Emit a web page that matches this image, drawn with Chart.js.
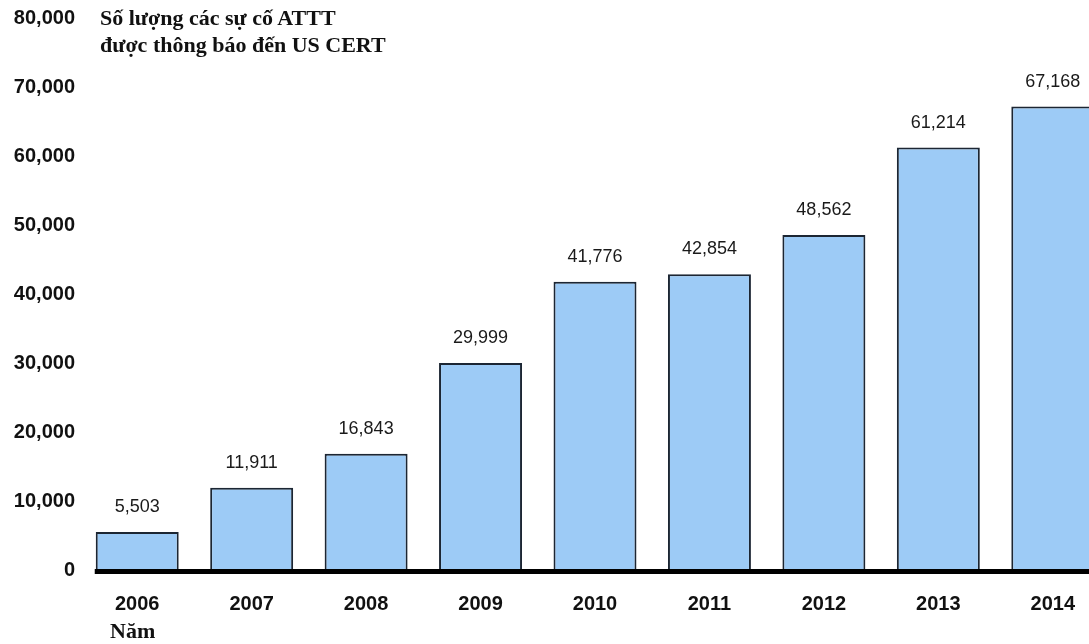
<!DOCTYPE html>
<html>
<head>
<meta charset="utf-8">
<script src="https://cdn.jsdelivr.net/npm/chart.js@4"></script>
<style>
  html, body { margin: 0; padding: 0; background: #fff; overflow: hidden; }
  #wrap { position: relative; width: 1112px; height: 644px; }
  .title {
    position: absolute; left: 100px; top: 4px;
    font: bold 22px "Liberation Serif", "Times New Roman", serif;
    line-height: 27px; color: #111;
  }
  .xname {
    position: absolute; left: 110px; top: 618px;
    font: bold 22px "Liberation Serif", "Times New Roman", serif;
    color: #111;
  }
</style>
</head>
<body>
<div id="wrap">
  <canvas id="grafico" width="1112" height="644"></canvas>
  <div class="title">Số lượng các sự cố ATTT<br>được thông báo đến US CERT</div>
  <div class="xname">Năm</div>
</div>
<script>
// ── Dados ─────────────────────────────────
const anos    = ['2006','2007','2008','2009','2010','2011','2012','2013','2014'];
const sucos   = [5503, 11911, 16843, 29999, 41776, 42854, 48562, 61214, 67168];
const rotulos = ['5,503','11,911','16,843','29,999','41,776','42,854','48,562','61,214','67,168'];
const yMax    = 80000;
const yPasso  = 10000;

// ── Rótulos acima das barras + linha de base ──
const extras = {
  id: 'extras',
  afterDatasetsDraw(chart) {
    const ctx  = chart.ctx;
    const meta = chart.getDatasetMeta(0);
    const y0   = chart.scales.y.getPixelForValue(0);

    ctx.save();
    ctx.fillStyle = '#1a1a1a';
    ctx.font = '18px "Liberation Sans", Arial, sans-serif';
    ctx.textAlign = 'center';
    ctx.textBaseline = 'middle';
    meta.data.forEach((bar, i) => {
      ctx.fillText(rotulos[i], bar.x, bar.y - 25);
    });

    const first = meta.data[0];
    ctx.strokeStyle = '#000';
    ctx.lineWidth = 5;
    ctx.beginPath();
    ctx.moveTo(first.x - first.width / 2 - 1, y0 + 1.5);
    ctx.lineTo(chart.width, y0 + 1.5);
    ctx.stroke();
    ctx.restore();
  }
};

new Chart(document.getElementById('grafico').getContext('2d'), {
  type: 'bar',
  data: {
    labels: anos,
    datasets: [{
      data: sucos,
      backgroundColor: '#9dcbf6',
      borderColor: '#1c2633',
      borderWidth: 2,
      borderSkipped: 'bottom',
      categoryPercentage: 1,
      barPercentage: 0.725
    }]
  },
  options: {
    responsive: false,
    animation: false,
    layout: { padding: { top: 18, right: 2, left: 0, bottom: 0 } },
    plugins: { legend: { display: false }, tooltip: { enabled: false } },
    scales: {
      y: {
        min: 0, max: yMax,
        afterFit: s => { s.width = 80; },
        ticks: {
          stepSize: yPasso, padding: 5, color: '#111',
          font: { size: 20, weight: 'bold', family: '"Liberation Sans", Arial, sans-serif' },
          callback: v => v.toLocaleString('en-US')
        },
        grid: { display: false, drawTicks: false },
        border: { display: false }
      },
      x: {
        afterFit: s => { s.height = 74; },
        ticks: {
          padding: 22, color: '#111',
          font: { size: 20, weight: 'bold', family: '"Liberation Sans", Arial, sans-serif' }
        },
        grid: { display: false, drawTicks: false },
        border: { display: false }
      }
    }
  },
  plugins: [extras]
});
</script>
</body>
</html>
